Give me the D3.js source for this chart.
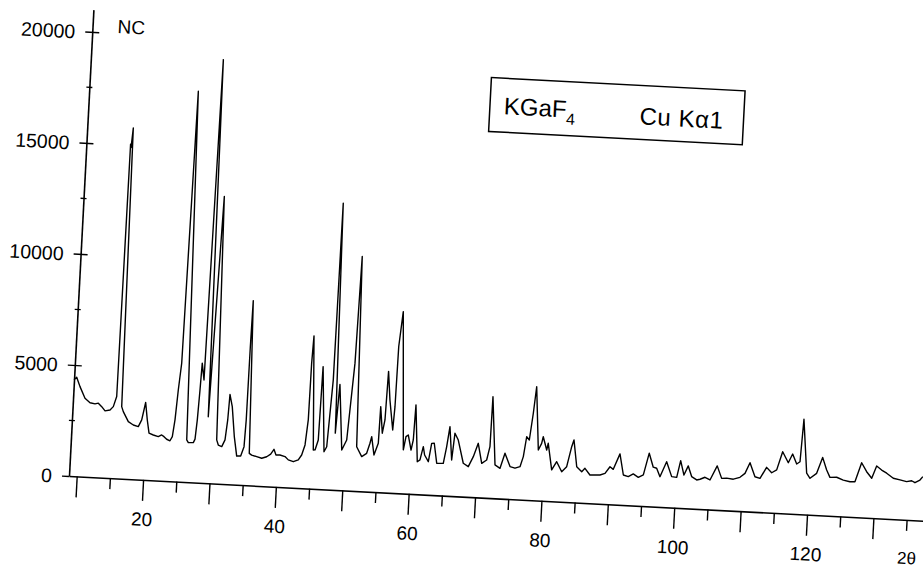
<!DOCTYPE html>
<html>
<head>
<meta charset="utf-8">
<script src="https://cdn.jsdelivr.net/npm/d3@7"></script>
<style>
  body { margin: 0; background: #fff; }
  svg { display: block; font-family: "Liberation Sans", Arial, sans-serif; }
</style>
</head>
<body>
<script>
// KGaF4 powder pattern (Cu Ka1) as [2theta, counts]
const scanLow = [
  [8.84, 4330], [9.22, 4450], [9.79, 4040], [10.63, 3530], [11.42, 3340], [12.18, 3300],
  [12.67, 3340], [13.21, 3190], [13.74, 3010], [14.48, 3060], [14.95, 3220], [15.38, 3680],
  [15.48, 15050], [15.58, 14900], [15.76, 15780], [16.21, 3240], [16.49, 3020], [17.32, 2580],
  [18.10, 2440], [18.86, 2380], [19.32, 2690], [19.78, 3480], [20.16, 2700], [20.52, 2110],
  [21.18, 2040], [21.94, 1980], [22.44, 2060], [22.80, 1990], [23.22, 1880], [23.73, 1820],
  [24.05, 2010], [24.32, 2770], [24.58, 4120], [24.88, 5330], [25.24, 17580], [26.24, 1900],
  [26.50, 1780], [27.25, 1790], [27.48, 1950], [27.67, 2820], [27.84, 4170], [27.97, 5380],
  [28.36, 4630], [28.75, 19060], [29.29, 2990], [29.97, 12920], [30.74, 1970], [31.02, 1740],
  [31.55, 1680], [31.99, 1990], [32.24, 2890], [32.38, 4040], [32.82, 3500], [33.36, 2160],
  [33.87, 1290], [34.47, 1300], [34.90, 1730], [35.02, 2940], [35.06, 6240], [35.14, 8310],
  [35.74, 1440], [36.11, 1370], [36.88, 1310], [37.64, 1250], [38.38, 1330], [38.96, 1460],
  [39.42, 1680], [39.76, 1430], [40.36, 1440], [41.13, 1380], [41.65, 1240], [42.42, 1170],
  [43.15, 1260], [43.62, 1490], [44.05, 1950], [44.34, 3080], [44.40, 5640], [44.54, 6870]
];
const scanMid = [
  [45.33, 1740], [45.59, 1750], [46.00, 2200], [46.15, 5510], [46.95, 1690], [47.32, 1920],
  [47.78, 4940], [47.89, 12900], [48.50, 2550], [48.82, 4750], [49.60, 1810], [50.27, 2270],
  [50.91, 5740], [51.16, 10550], [51.82, 1990], [52.65, 1560], [53.37, 1720], [53.79, 2180],
  [54.00, 2480], [54.48, 1660], [55.04, 2200], [55.12, 3850], [55.56, 2660], [55.86, 3260],
  [56.02, 5450], [56.45, 4170], [57.10, 2830], [57.26, 3880], [57.35, 6590], [57.76, 8170],
  [58.85, 1960], [59.15, 2560], [59.48, 2640], [60.01, 1970], [60.27, 2430], [60.40, 4010],
  [61.04, 1460], [61.43, 1550], [61.83, 2150], [62.09, 1780], [62.70, 1490], [63.06, 2320],
  [63.45, 2330], [63.97, 1440], [64.96, 1450], [65.34, 2210], [65.68, 3110], [66.19, 1620],
  [66.48, 2830], [67.03, 2530], [67.96, 1500], [68.74, 1360], [69.42, 1820], [70.06, 2430],
  [70.73, 1540], [71.45, 1700], [71.84, 2310], [71.90, 4560], [72.74, 1500], [73.52, 1360],
  [74.15, 2050], [75.01, 1460], [75.77, 1400], [76.51, 1480], [76.93, 1940], [77.28, 2840],
  [77.70, 2700], [78.09, 3910], [78.39, 5110], [79.13, 2270], [79.58, 2580], [79.77, 2880],
  [80.39, 2290], [80.57, 2600], [81.29, 1410], [81.98, 1790], [82.81, 1350], [83.52, 1590],
  [84.12, 2500], [84.41, 2810], [85.03, 1610], [85.82, 1400], [86.28, 1560], [87.08, 1270]
];
const scanHigh = [
  [88.59, 1295], [89.33, 1380], [90.03, 1690], [90.54, 1580], [91.43, 2290], [92.10, 1350],
  [92.85, 1290], [93.58, 1420], [94.36, 1280], [95.10, 1400], [95.82, 2390], [96.53, 1770],
  [97.05, 1730], [97.61, 1360], [98.50, 2050], [99.37, 1390], [100.13, 1370], [100.60, 2130],
  [101.20, 1490], [101.78, 1910], [102.37, 1440], [103.15, 1300], [103.65, 1340], [104.38, 1440],
  [105.15, 1330], [106.13, 1980], [106.89, 1430], [107.64, 1450], [108.65, 1420], [109.63, 1520],
  [110.36, 1710], [111.03, 2200], [111.88, 1580], [112.65, 1520], [113.56, 2030], [114.36, 1800],
  [115.09, 1940], [115.85, 2770], [116.78, 2290], [117.37, 2690], [118.05, 2250], [118.53, 2360],
  [118.79, 4280], [119.62, 1860], [120.16, 1640], [121.12, 1880], [121.90, 2610], [122.60, 2050],
  [123.15, 1730], [124.16, 1750], [125.17, 1640], [126.19, 1580], [126.94, 1590], [127.80, 2460],
  [128.62, 2070], [129.43, 1790], [130.08, 2350], [130.86, 2180], [131.64, 2050], [132.67, 1840],
  [133.69, 1780], [134.70, 1720], [135.45, 1770], [135.96, 1690], [136.69, 1820], [137.10, 1980]
];

const xTicks = d3.range(10, 140, 5);
const xLabels = [20, 40, 60, 80, 100, 120];
const yMajor = [0, 5000, 10000, 15000, 20000];
const yMinor = [2500, 7500, 12500, 17500];

const width = 923, height = 572;

const svg = d3.select("body").append("svg")
    .attr("width", width)
    .attr("height", height);
svg.append("rect").attr("width", width).attr("height", height).attr("fill", "#fff");

// the sheet was scanned a bit crooked, so the whole plot is turned 3 degrees
const g = svg.append("g").attr("transform", "translate(69,476) rotate(3)");

const x = d3.scaleLinear().domain([8.84, 140]).range([0, 872]);
const y = d3.scaleLinear().domain([0, 21000]).range([0, -467]);

// x axis: ticks every 5, long ones every 10, labels every 20
const xAxis = g.append("g")
    .call(d3.axisBottom(x)
        .tickValues(xTicks)
        .tickSize(11)
        .tickSizeOuter(0)
        .tickFormat(d => xLabels.includes(d) ? d : ""));
xAxis.attr("font-size", null).attr("font-family", null);
xAxis.select(".domain").attr("stroke", "#000").attr("stroke-width", 1.6);
xAxis.selectAll(".tick line")
    .attr("stroke", "#000")
    .attr("stroke-width", 1.4)
    .attr("y2", d => d % 10 === 0 ? 21 : 11);
xAxis.selectAll(".tick text")
    .attr("y", 46)
    .attr("dy", null)
    .attr("fill", "#000")
    .style("font-size", "19px");

g.append("text")
    .attr("x", x(135.3))
    .attr("y", 44)
    .attr("text-anchor", "middle")
    .style("font-size", "17px")
    .text("2θ");

// y axis: crossing ticks at 5000, small marks in between
const yAxis = g.append("g")
    .call(d3.axisLeft(y)
        .tickValues(yMajor)
        .tickSize(7)
        .tickSizeOuter(0)
        .tickFormat(d3.format("d")));
yAxis.attr("font-size", null).attr("font-family", null);
yAxis.select(".domain").attr("stroke", "#000").attr("stroke-width", 1.6);
yAxis.selectAll(".tick line")
    .attr("stroke", "#000")
    .attr("stroke-width", 1.4)
    .attr("x1", d => d === 0 ? 0 : 7);
yAxis.selectAll(".tick text")
    .attr("x", -17)
    .attr("dy", "0.35em")
    .attr("fill", "#000")
    .style("font-size", "19.5px");

g.append("g")
    .selectAll("line")
    .data(yMinor)
    .join("line")
    .attr("x1", -3)
    .attr("x2", 3)
    .attr("y1", d => y(d))
    .attr("y2", d => y(d))
    .attr("stroke", "#000")
    .attr("stroke-width", 1.3);

g.append("text")
    .attr("x", 25)
    .attr("y", -445)
    .style("font-size", "19px")
    .text("NC");

// the pattern
const line = d3.line()
    .x(d => x(d[0]))
    .y(d => y(d[1]));

g.append("path")
    .datum(scanLow.concat(scanMid, scanHigh))
    .attr("d", line)
    .attr("fill", "none")
    .attr("stroke", "#000")
    .attr("stroke-width", 1.4)
    .attr("stroke-linejoin", "round");

// sample box
const box = g.append("g").attr("transform", "translate(401,-420)");
box.append("rect")
    .attr("width", 254)
    .attr("height", 54)
    .attr("fill", "#fff")
    .attr("stroke", "#000")
    .attr("stroke-width", 1.5);
const label = box.append("text")
    .attr("x", 14)
    .attr("y", 36)
    .style("font-size", "24px");
label.append("tspan").text("KGaF");
label.append("tspan")
    .attr("dy", 7)
    .style("font-size", "16px")
    .text("4");
box.append("text")
    .attr("x", 150)
    .attr("y", 39)
    .style("font-size", "24px")
    .style("letter-spacing", "0.6px")
    .text("Cu Kα1");
</script>
</body>
</html>
